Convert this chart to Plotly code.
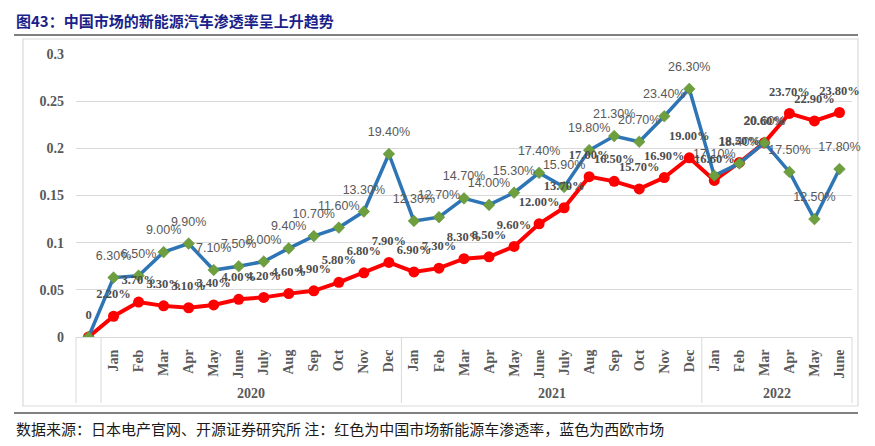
import plotly.graph_objects as go

# ---------------- data ----------------
months_2020 = ["Jan", "Feb", "Mar", "Apr", "May", "June", "July", "Aug", "Sep", "Oct", "Nov", "Dec"]
months_2021 = ["Jan", "Feb", "Mar", "Apr", "May", "June", "July", "Aug", "Sep", "Oct", "Nov", "Dec"]
months_2022 = ["Jan", "Feb", "Mar", "Apr", "May", "June"]
years = ["2020", "2021", "2022"]
categories = [""] + months_2020 + months_2021 + months_2022

# Western Europe (blue), fractions
europe = [0.0,
          0.063, 0.065, 0.090, 0.099, 0.071, 0.075, 0.080, 0.094, 0.107, 0.116, 0.133, 0.194,
          0.123, 0.127, 0.147, 0.140, 0.153, 0.174, 0.159, 0.198, 0.213, 0.207, 0.234, 0.263,
          0.171, 0.184, 0.206, 0.175, 0.125, 0.178]
# China (red), fractions
china = [0.0,
         0.022, 0.037, 0.033, 0.031, 0.034, 0.040, 0.042, 0.046, 0.049, 0.058, 0.068, 0.079,
         0.069, 0.073, 0.083, 0.085, 0.096, 0.120, 0.137, 0.170, 0.165, 0.157, 0.169, 0.190,
         0.166, 0.185, 0.206, 0.237, 0.229, 0.238]

y_ticks = [0, 0.05, 0.1, 0.15, 0.2, 0.25, 0.3]
y_ticktext = ["0", "0.05", "0.1", "0.15", "0.2", "0.25", "0.3"]

title_text = "图43：中国市场的新能源汽车渗透率呈上升趋势"
footer_text = "数据来源：日本电产官网、开源证券研究所 注：红色为中国市场新能源车渗透率，蓝色为西欧市场"

# ---------------- derived ----------------
x = list(range(len(categories)))
xmin, xmax = -0.5, len(categories) - 0.5
europe_text = [""] + [f"{v*100:.2f}%" for v in europe[1:]]
china_text = ["0"] + [f"{v*100:.2f}%" for v in china[1:]]

OFF = 8  # page body margin of the browser
W, H = 875 - OFF, 446 - OFF
L, T = 76 - OFF, 54 - OFF
R = W - (852 - OFF)
B = H - (337 - OFF)
pw, ph = W - L - R, H - T - B


def px_x(p):
    return (p - OFF - L) / pw


def px_y(p):
    return (H - B - (p - OFF)) / ph


def data_x_paper(v):
    return (v - xmin) / (xmax - xmin)


SERIF = "Liberation Serif"
GRAY = "#595959"

fig = go.Figure()

# China line
fig.add_trace(go.Scatter(
    x=x, y=china, mode="lines+markers",
    line=dict(color="#FF0000", width=4),
    marker=dict(symbol="circle", size=11, color="#FF0000"),
    hoverinfo="skip", showlegend=False))
# Europe line
fig.add_trace(go.Scatter(
    x=x, y=europe, mode="lines+markers",
    line=dict(color="#2E75B6", width=3.5),
    marker=dict(symbol="diamond", size=9, color="#6E9F3F",
                line=dict(color="#5A8A33", width=0.5)),
    hoverinfo="skip", showlegend=False))
# Europe labels
fig.add_trace(go.Scatter(
    x=x, y=europe, mode="markers+text", text=europe_text,
    textposition="top center", cliponaxis=False,
    textfont=dict(family="Liberation Sans", size=12.5, color=GRAY),
    marker=dict(size=22, color="rgba(0,0,0,0)"),
    hoverinfo="skip", showlegend=False))
# China labels
fig.add_trace(go.Scatter(
    x=x, y=china, mode="markers+text", text=china_text,
    textposition="top center", cliponaxis=False,
    textfont=dict(family=SERIF, size=12.5, color="#4D4D4D", weight="bold"),
    marker=dict(size=22, color="rgba(0,0,0,0)"),
    hoverinfo="skip", showlegend=False))

shapes = []
line_gray = "#D9D9D9"
# category label box: vertical separators
box_bottom = px_y(403)
group_sizes = [len(months_2020), len(months_2021), len(months_2022)]
bounds = [xmin, 0.5]
acc = 0.5
for g in group_sizes:
    acc += g
    bounds.append(acc)
for b in bounds:
    xp = data_x_paper(b)
    shapes.append(dict(type="line", xref="paper", yref="paper", x0=xp, x1=xp,
                       y0=0, y1=box_bottom, line=dict(color=line_gray, width=1)))
# outer chart border
shapes.append(dict(type="rect", xref="paper", yref="paper",
                   x0=px_x(23), x1=px_x(858), y0=px_y(406), y1=px_y(39),
                   line=dict(color="#D9D9D9", width=1.2), layer="below"))
# title underline and footer line
shapes.append(dict(type="line", xref="paper", yref="paper", x0=px_x(14), x1=px_x(858),
                   y0=px_y(35), y1=px_y(35), line=dict(color="#808080", width=2)))
shapes.append(dict(type="line", xref="paper", yref="paper", x0=px_x(14), x1=px_x(858),
                   y0=px_y(413), y1=px_y(413), line=dict(color="#808080", width=2)))

annotations = []
# year labels
start = 1
for yr, g in zip(years, group_sizes):
    center = start + (g - 1) / 2
    annotations.append(dict(x=center, xref="x", y=px_y(393), yref="paper",
                            text=yr, showarrow=False, xanchor="center", yanchor="middle",
                            font=dict(family=SERIF, size=14, color=GRAY, weight="bold")))
    start += g
# title
annotations.append(dict(x=px_x(14), y=px_y(8), xref="paper", yref="paper",
                        text=title_text, showarrow=False, xanchor="left", yanchor="top",
                        font=dict(family="Noto Sans CJK SC", size=15, color="#1B1F8A", weight="bold")))
# footer
annotations.append(dict(x=px_x(14), y=px_y(428), xref="paper", yref="paper",
                        text=footer_text, showarrow=False, xanchor="left", yanchor="middle",
                        font=dict(family="Noto Sans CJK SC", size=15, color="#1A1A1A")))

fig.update_layout(
    width=W, height=H,
    margin=dict(l=L, r=R, t=T, b=B, pad=0),
    paper_bgcolor="white", plot_bgcolor="white",
    showlegend=False,
    shapes=shapes, annotations=annotations,
    xaxis=dict(range=[xmin, xmax], tickmode="array", tickvals=x, ticktext=categories,
               tickangle=-90, showgrid=False, zeroline=False,
               showline=True, linecolor=line_gray, linewidth=1,
               ticks="", ticklabelstandoff=6,
               tickfont=dict(family=SERIF, size=14, color=GRAY, weight="bold")),
    yaxis=dict(range=[0, 0.3], tickmode="array", tickvals=y_ticks, ticktext=y_ticktext,
               showgrid=True, gridcolor=line_gray, gridwidth=1, zeroline=False,
               showline=False, ticks="", ticklabelstandoff=11,
               tickfont=dict(family=SERIF, size=14, color=GRAY, weight="bold")),
)

fig.write_html("out.html")
